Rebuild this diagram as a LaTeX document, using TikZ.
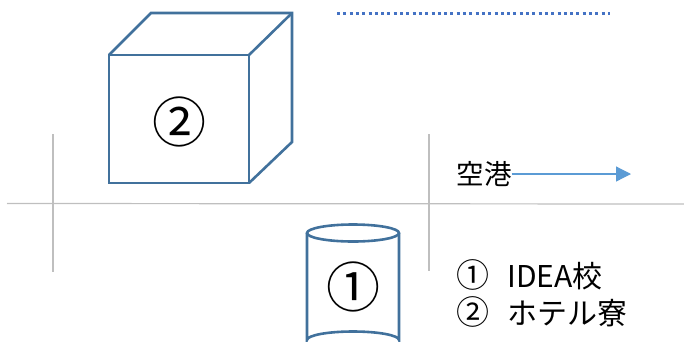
\documentclass[tikz,border=0pt]{standalone}
\usepackage{fontspec}
\setmainfont{Noto Sans CJK JP}
\usetikzlibrary{arrows.meta}
\definecolor{shapeblue}{HTML}{41719C}
\definecolor{dotblue}{HTML}{4472C4}
\definecolor{arrowblue}{HTML}{5B9BD5}
\definecolor{gridgray}{HTML}{BFBFBF}
\tikzset{
  shapeline/.style={draw=shapeblue, line width=2.6pt, line join=miter},
  gridline/.style={draw=gridgray, line width=1.2pt},
  bigno/.style={font=\fontsize{54}{54}\selectfont, inner sep=0pt},
  lbl/.style={font=\fontsize{30}{34}\selectfont, inner sep=0pt, anchor=west},
}
\begin{document}
\begin{tikzpicture}[x=1pt,y=-1pt]
\useasboundingbox (0,0) rectangle (684,341);
% grid lines
\coordinate (hl) at (7,203.5);
\coordinate (hr) at (684,204);
\draw[gridline] (hl) -- (hr);
\coordinate (v1t) at (53,134);
\coordinate (v1b) at (53,272);
\draw[gridline] (v1t) -- (v1b);
\coordinate (v2t) at (429,134);
\coordinate (v2b) at (429,271);
\draw[gridline] (v2t) -- (v2b);
% dotted line
\coordinate (d1) at (337,13);
\coordinate (d2) at (610,13);
\draw[dotblue, line width=3pt, dash pattern=on 3pt off 3.3pt] (d1) -- (d2);
% cube
\coordinate (fa) at (109,55);
\coordinate (fb) at (249,55);
\coordinate (fc) at (249,183);
\coordinate (fd) at (109,183);
\coordinate (ba) at (151,13);
\coordinate (bb) at (292,13);
\coordinate (bc) at (292,142);
\draw[shapeline] (fa) -- (fb) -- (fc) -- (fd) -- cycle;
\draw[shapeline] (fa) -- (ba) -- (bb) -- (bc) -- (fc);
\draw[shapeline] (fb) -- (bb);
\node[bigno] (n2) at (179,122) {②};
% cylinder
\begin{scope}
\clip (0,0) rectangle (684,341);
\draw[shapeline] (307,233) -- (307,340) arc[start angle=180, end angle=360, x radius=46, y radius=8.5] -- (399,233);
\draw[shapeline] (353,233) ellipse[x radius=46, y radius=8.5];
\end{scope}
\node[bigno] (n1) at (353,287) {①};
% airport arrow
\node[font=\fontsize{27.5}{30}\selectfont, inner sep=0pt] (kuko) at (484,174) {空港};
\coordinate (arrEnd) at (631,174);
\draw[arrowblue, line width=1.2pt, -{Triangle[length=15pt, width=15pt]}] (kuko.east) -- (arrEnd);
% legend
\node[lbl] (l1) at (456,275) {\scalebox{1.1}{①}\hspace{0.6em}IDEA校};
\node[lbl] (l2) at (456,312) {\scalebox{1.1}{②}\hspace{0.6em}ホテル寮};
\end{tikzpicture}
\end{document}
